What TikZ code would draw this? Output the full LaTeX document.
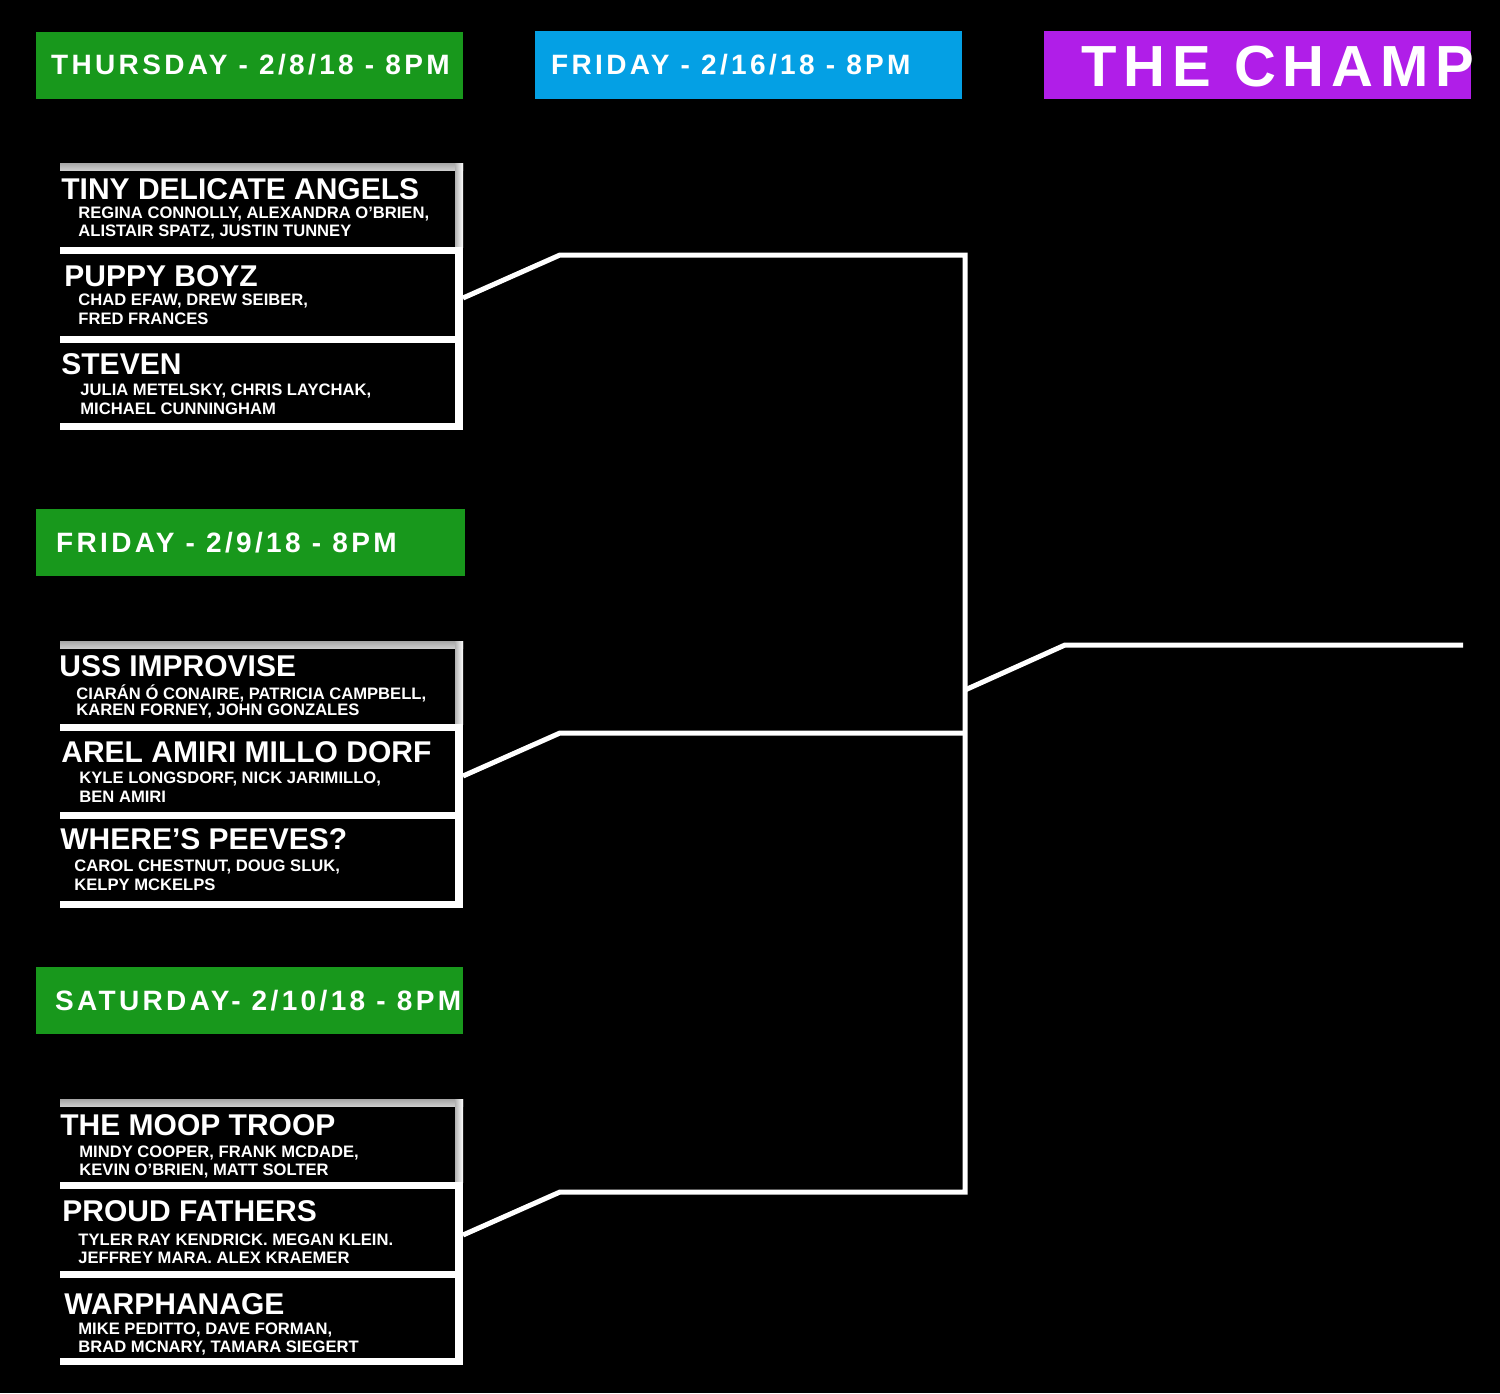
\documentclass[tikz,border=0pt]{standalone}
\usepackage{fontspec}
\setmainfont{Liberation Sans}
\newfontfamily\hdfont[LetterSpace=12]{Liberation Sans}
\definecolor{hgreen}{HTML}{18981C}
\definecolor{hblue}{HTML}{04A0E4}
\definecolor{hpurple}{HTML}{B01EE8}
\tikzset{
 hdr/.style={anchor=west,text=white,font=\hdfont\bfseries\fontsize{14}{14}\selectfont},
 tname/.style={anchor=west,text=white,inner sep=0,font=\bfseries\fontsize{15}{15}\selectfont},
 tmem/.style={anchor=west,text=white,inner sep=0,font=\bfseries\fontsize{8.3}{9}\selectfont},
 bar/.style={fill=white},
 conn/.style={draw=white,line width=2.5pt}
}
\begin{document}
\begin{tikzpicture}[x=0.5pt,y=-0.5pt]
\fill[black] (0,0) rectangle (1500,1393);
\useasboundingbox (0,0) rectangle (1500,1393);
% headers
\fill[hgreen] (36,32) rectangle (463,99);
\node[hdr] (h1) at (44,65) {THURSDAY - 2/8/18 - 8PM};
\fill[hblue] (535,31) rectangle (962,99);
\node[hdr] (h2) at (544,65) {FRIDAY - 2/16/18 - 8PM};
\fill[hpurple] (1044,31) rectangle (1471,99);
\node[hdr,font=\hdfont\bfseries\fontsize{29}{29}\selectfont] (h3) at (1074,67) {THE CHAMP};
\fill[hgreen] (36,509) rectangle (465,576);
\node[hdr] (h4) at (49,543) {FRIDAY - 2/9/18 - 8PM};
\fill[hgreen] (36,967) rectangle (463,1034);
\node[hdr] (h5) at (48,1001) {SATURDAY- 2/10/18 - 8PM};
% group boxes
\foreach \t/\a/\b/\c in {163/247/336/423, 641/724/812/901, 1099/1182/1271/1358}{
 \shade[top color=gray!70,bottom color=gray!40] (60,\t) rectangle (463,\t+7);
 \shade[left color=gray!60,right color=white] (455,\t) rectangle (463,\a);
 \fill[white] (455,\a) rectangle (463,\c+7);
 \fill[white] (60,\a) rectangle (463,\a+7);
 \fill[white] (60,\b) rectangle (463,\b+7);
 \fill[white] (60,\c) rectangle (463,\c+7);
}
% teams
\node[tname] (t1) at (61,189) {TINY DELICATE ANGELS};
\node[tmem] at (78,214) {REGINA CONNOLLY, ALEXANDRA O'BRIEN,};
\node[tmem] at (78,232) {ALISTAIR SPATZ, JUSTIN TUNNEY};
\node[tname] (t2) at (64,276) {PUPPY BOYZ};
\node[tmem] at (78,301) {CHAD EFAW, DREW SEIBER,};
\node[tmem] at (78,319) {FRED FRANCES};
\node[tname] (t3) at (61,364) {STEVEN};
\node[tmem] at (80,391) {JULIA METELSKY, CHRIS LAYCHAK,};
\node[tmem] at (80,409) {MICHAEL CUNNINGHAM};
\node[tname] (t4) at (59,666) {USS IMPROVISE};
\node[tmem] at (76,693) {CIARÁN Ó CONAIRE, PATRICIA CAMPBELL,};
\node[tmem] at (76,711) {KAREN FORNEY, JOHN GONZALES};
\node[tname] (t5) at (61,752) {AREL AMIRI MILLO DORF};
\node[tmem] at (79,779) {KYLE LONGSDORF, NICK JARIMILLO,};
\node[tmem] at (79,797) {BEN AMIRI};
\node[tname] (t6) at (60,839) {WHERE'S PEEVES?};
\node[tmem] at (74,867) {CAROL CHESTNUT, DOUG SLUK,};
\node[tmem] at (74,885) {KELPY MCKELPS};
\node[tname] (t7) at (60,1125) {THE MOOP TROOP};
\node[tmem] at (79,1153) {MINDY COOPER, FRANK MCDADE,};
\node[tmem] at (79,1171) {KEVIN O'BRIEN, MATT SOLTER};
\node[tname] (t8) at (62,1211) {PROUD FATHERS};
\node[tmem] at (78,1240) {TYLER RAY KENDRICK. MEGAN KLEIN.};
\node[tmem] at (78,1258) {JEFFREY MARA. ALEX KRAEMER};
\node[tname] (t9) at (64,1304) {WARPHANAGE};
\node[tmem] at (78,1330) {MIKE PEDITTO, DAVE FORMAN,};
\node[tmem] at (78,1348) {BRAD MCNARY, TAMARA SIEGERT};
% connectors
\coordinate (g1) at (463,298); \coordinate (k1) at (560,255); \coordinate (r1) at (965,255);
\coordinate (g2) at (463,776); \coordinate (k2) at (560,733); \coordinate (r2) at (965,733);
\coordinate (g3) at (463,1235); \coordinate (k3) at (560,1192); \coordinate (r3) at (965,1192);
\coordinate (f0) at (965,690); \coordinate (fk) at (1065,645); \coordinate (fe) at (1463,645);
\draw[conn] (g1) -- (k1) -- (r1) -- (r3) -- (k3) -- (g3);
\draw[conn] (g2) -- (k2) -- (r2);
\draw[conn] (f0) -- (fk) -- (fe);
\end{tikzpicture}
\end{document}
